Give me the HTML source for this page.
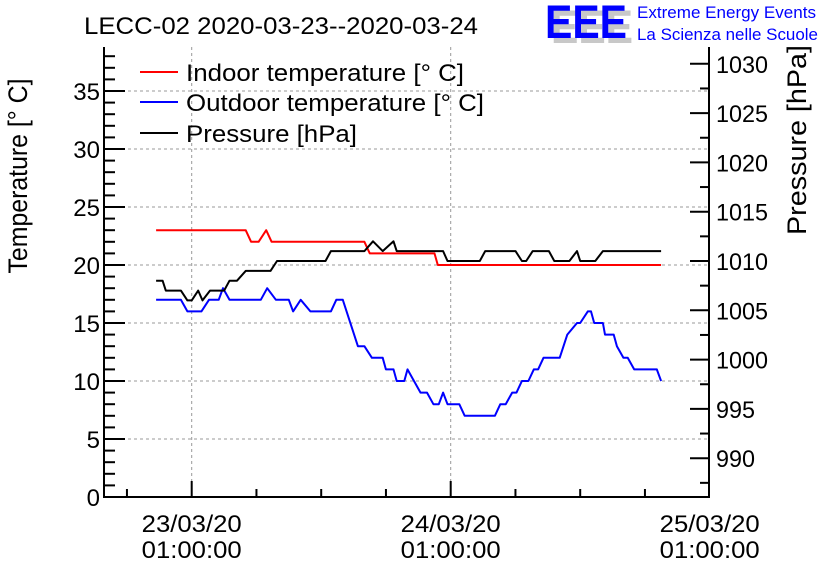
<!DOCTYPE html>
<html><head><meta charset="utf-8"><style>
html,body{margin:0;padding:0;background:#fff;}
svg{display:block;font-family:"Liberation Sans",Arial,sans-serif;}
</style></head><body>
<svg id="chart" width="836" height="572" viewBox="0 0 836 572" xmlns="http://www.w3.org/2000/svg">
<rect width="836" height="572" fill="#fff"/>
<text x="84" y="34" font-size="24" textLength="394" lengthAdjust="spacingAndGlyphs">LECC-02 2020-03-23--2020-03-24</text>
<g>
<text x="551" y="43" font-size="47" font-weight="bold" fill="#c8c8c8" textLength="82" lengthAdjust="spacingAndGlyphs">EEE</text>
<text x="545" y="38" font-size="47" font-weight="bold" fill="#0000ff" textLength="82" lengthAdjust="spacingAndGlyphs">EEE</text>
<text x="637" y="18" font-size="17" fill="#0000ff" textLength="179" lengthAdjust="spacingAndGlyphs">Extreme Energy Events</text>
<text x="637" y="40" font-size="17" fill="#0000ff" textLength="181" lengthAdjust="spacingAndGlyphs">La Scienza nelle Scuole</text>
</g>
<g id="grid"></g>
<g id="series"></g>
<g id="axes"></g>
<text transform="translate(27,176) rotate(-90)" text-anchor="middle" font-size="27" textLength="195" lengthAdjust="spacingAndGlyphs">Temperature [° C]</text>
<text transform="translate(806,140) rotate(-90)" text-anchor="middle" font-size="27" textLength="190" lengthAdjust="spacingAndGlyphs">Pressure [hPa]</text>
<g>
<line x1="140" y1="72" x2="178" y2="72" stroke="#ff0000" stroke-width="2"/>
<text x="186" y="81" font-size="24" textLength="278" lengthAdjust="spacingAndGlyphs">Indoor temperature [° C]</text>
<line x1="140" y1="102" x2="178" y2="102" stroke="#0000ff" stroke-width="2"/>
<text x="186" y="111" font-size="24" textLength="298" lengthAdjust="spacingAndGlyphs">Outdoor temperature [° C]</text>
<line x1="140" y1="133" x2="178" y2="133" stroke="#000" stroke-width="2"/>
<text x="186" y="142" font-size="24" textLength="171" lengthAdjust="spacingAndGlyphs">Pressure [hPa]</text>
</g>
</svg>
<script>
// hours relative to 23/03/20 01:00:00
const indoorHours = [-3.3,5.0,5.5,6.2,6.9,7.4,16.0,16.5,22.5,22.8,43.5];
const indoorTemp  = [23,23,22,22,23,22,22,21,21,20,20];
const pressureHours = [-3.3,-2.7,-2.4,-1.0,-0.4,0.0,0.6,1.0,1.7,3.0,3.5,4.2,5.0,7.3,7.9,12.4,12.9,16.0,16.8,17.7,18.7,19.0,23.3,23.7,26.7,27.2,30.0,30.6,31.0,31.6,33.1,33.6,35.0,35.7,36.0,37.4,38.1,43.5];
const pressureVal = [1008,1008,1007,1007,1006,1006,1007,1006,1007,1007,1008,1008,1009,1009,1010,1010,1011,1011,1012,1011,1012,1011,1011,1010,1010,1011,1011,1010,1010,1011,1011,1010,1010,1011,1010,1010,1011,1011];
const outdoorHours = [-3.3,-1.0,-0.4,0.9,1.6,2.5,2.9,3.5,6.4,7.0,7.8,9.0,9.4,10.1,11.0,12.9,13.4,14.0,15.4,16.0,16.7,17.7,18.0,18.7,19.0,19.7,20.0,21.2,21.8,22.4,22.9,23.3,23.7,24.8,25.3,28.1,28.6,29.1,29.7,30.1,30.6,31.2,31.7,32.1,32.6,34.1,34.8,35.7,36.0,36.7,37.0,37.3,38.1,38.3,39.1,39.4,40.0,40.4,41.0,43.1,43.5];
const outdoorTemp = [17,17,16,16,17,17,18,17,17,18,17,17,16,17,16,16,17,17,13,13,12,12,11,11,10,10,11,9,9,8,8,9,8,8,7,7,8,8,9,9,10,10,11,11,12,12,14,15,15,16,16,15,15,14,14,13,12,12,11,11,10];
const tempTicks = [0,5,10,15,20,25,30,35];
const pressTicks = [990,995,1000,1005,1010,1015,1020,1025,1030];
const dateLabels = ["23/03/20","24/03/20","25/03/20"];
const dateHours = [0,24,48];

const L=104,R=709,T=47,B=497;
const X0=191.7, PXH=259/24;
const xS=h=>X0+h*PXH;
const yT=v=>B-v*11.6;
const yP=p=>261-(p-1010)*9.86;
const NS="http://www.w3.org/2000/svg";
function mk(tag,attrs,parent,text){const e=document.createElementNS(NS,tag);for(const k in attrs)e.setAttribute(k,attrs[k]);if(text!==undefined)e.textContent=text;parent.appendChild(e);return e;}
const grid=document.getElementById('grid'),axes=document.getElementById('axes'),series=document.getElementById('series');
tempTicks.forEach(v=>{if(v>0){const l=mk('line',{x1:L,x2:R,y1:yT(v),y2:yT(v),stroke:'#999','stroke-dasharray':'3,3','stroke-width':1},grid);

}});
dateHours.forEach(h=>{const x=xS(h);if(x<R-2){const l=mk('line',{x1:x,x2:x,y1:T,y2:B,stroke:'#999','stroke-dasharray':'3,3','stroke-width':1},grid);

}});
function poly(hs,vs,yf,color,name){const pts=hs.map((h,i)=>xS(h).toFixed(1)+','+yf(vs[i]).toFixed(1)).join(' ');
const p=mk('polyline',{points:pts,fill:'none',stroke:color,'stroke-width':2,'stroke-linejoin':'round'},series);

}
poly(indoorHours,indoorTemp,yT,'#ff0000','indoor-temperature-line');
poly(outdoorHours,outdoorTemp,yT,'#0000ff','outdoor-temperature-line');
poly(pressureHours,pressureVal,yP,'#000000','pressure-line');
const fr=mk('path',{d:`M${L},${T}V${B}H${R}V${T}`,fill:'none',stroke:'#000','stroke-width':2},axes);


for(let v=0;v<=38;v++){const y=yT(v);const len=v%5===0?21:11;const l=mk('line',{x1:L,x2:L+len,y1:y,y2:y,stroke:'#000','stroke-width':2},axes);

}
tempTicks.forEach(v=>{const t=mk('text',{x:L-4,y:yT(v)+9,'text-anchor':'end','font-size':24},axes,String(v));

});
for(let p=987.5;p<=1031;p+=2.5){const y=yP(p);const len=(p%5===0)?19:9;const l=mk('line',{x1:R-len,x2:R,y1:y,y2:y,stroke:'#000','stroke-width':2},axes);

}
pressTicks.forEach(p=>{const t=mk('text',{x:R+7,y:yP(p)+9,'font-size':24,textLength:52,lengthAdjust:'spacingAndGlyphs'},axes,String(p));
if(String(p).length===3)t.setAttribute('textLength','39');

});
for(let h=-6;h<=48;h+=6){const x=xS(h);if(x<L||x>R)continue;const len=h%24===0?16:8;const l=mk('line',{x1:x,x2:x,y1:B-len,y2:B,stroke:'#000','stroke-width':2},axes);

}
dateLabels.forEach((d,i)=>{const x=xS(dateHours[i]);
const t1=mk('text',{x:x-50,y:532,'font-size':24,textLength:100,lengthAdjust:'spacingAndGlyphs'},axes,d);


const t2=mk('text',{x:x-50,y:558,'font-size':24,textLength:100,lengthAdjust:'spacingAndGlyphs'},axes,'01:00:00');

});
</script>
</body></html>
